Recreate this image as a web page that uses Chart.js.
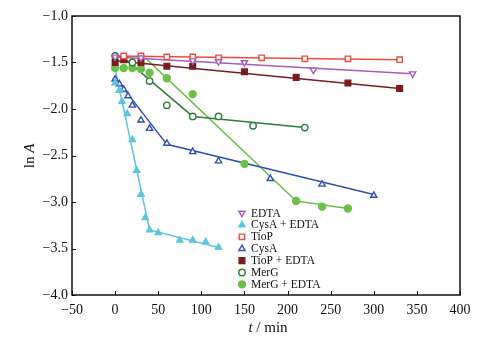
<!DOCTYPE html>
<html lang="en">
<head>
    <meta charset="UTF-8">
    <title>ln A vs t</title>
    <script src="https://cdn.jsdelivr.net/npm/chart.js"></script>
    <style>
        body { margin: 0; background: #fff; }
        #wrap { width: 481px; height: 348px; }
    </style>
</head>
<body>
<div id="wrap"><canvas id="lnChart" width="481" height="348"></canvas></div>
<script>
// measured points (t in min, ln A)
const edtaT = [0, 30, 90, 120, 150, 230, 345];
const edtaY = [-1.44, -1.45, -1.48, -1.49, -1.50, -1.58, -1.62];
const cysEdtaT = [0, 5, 8, 14, 20, 25, 30, 35, 40, 50, 75, 90, 105, 120];
const cysEdtaY = [-1.72, -1.80, -1.92, -2.05, -2.33, -2.66, -2.92, -3.17, -3.30, -3.33, -3.41, -3.41, -3.43, -3.49];
const tiopT = [10, 30, 60, 90, 120, 170, 220, 270, 330];
const tiopY = [-1.43, -1.43, -1.44, -1.44, -1.45, -1.45, -1.46, -1.46, -1.47];
const cysT = [0, 5, 10, 15, 20, 30, 40, 60, 90, 120, 180, 240, 300];
const cysY = [-1.68, -1.73, -1.79, -1.86, -1.96, -2.12, -2.21, -2.37, -2.46, -2.56, -2.75, -2.81, -2.93];
const tiopEdtaT = [0, 10, 30, 60, 90, 150, 210, 270, 330];
const tiopEdtaY = [-1.50, -1.47, -1.50, -1.54, -1.54, -1.60, -1.66, -1.72, -1.78];
const mergT = [0, 20, 40, 60, 90, 120, 160, 220];
const mergY = [-1.43, -1.50, -1.70, -1.96, -2.08, -2.08, -2.18, -2.20];
const mergEdtaT = [0, 10, 20, 30, 40, 60, 90, 150, 210, 240, 270];
const mergEdtaY = [-1.56, -1.56, -1.56, -1.57, -1.61, -1.67, -1.84, -2.59, -2.99, -3.05, -3.07];

// fitted line segments
const edtaFitT = [0, 345];
const edtaFitY = [-1.44, -1.62];
const cysEdtaFitT = [0, 40, 120];
const cysEdtaFitY = [-1.57, -3.30, -3.49];
const tiopFitT = [0, 330];
const tiopFitY = [-1.43, -1.47];
const cysFitT = [0, 60, 300];
const cysFitY = [-1.66, -2.38, -2.92];
const tiopEdtaFitT = [0, 330];
const tiopEdtaFitY = [-1.48, -1.78];
const mergFitT = [10, 90, 220];
const mergFitY = [-1.45, -2.08, -2.20];
const mergEdtaFitT = [35, 210, 270];
const mergEdtaFitY = [-1.45, -2.99, -3.07];

const seriesNames = ['EDTA', 'CysA + EDTA', 'TioP', 'CysA', 'TioP + EDTA', 'MerG', 'MerG + EDTA'];
const xTicks = [-50, 0, 50, 100, 150, 200, 250, 300, 350, 400];
const yTicks = [-4.0, -3.5, -3.0, -2.5, -2.0, -1.5, -1.0];

const pts = (t, y) => t.map((v, i) => ({ x: v, y: y[i] }));
const serif = 'Liberation Serif, Times New Roman, serif';

const styles = [
    { color: '#a85cbc', shape: 'triangle', rot: 180, filled: false, r: 3.6 },
    { color: '#5cc6dc', shape: 'triangle', rot: 0, filled: true, r: 3.6 },
    { color: '#ee4a3e', shape: 'rect', rot: 0, filled: false, r: 3.8 },
    { color: '#2c50b4', shape: 'triangle', rot: 0, filled: false, r: 3.6 },
    { color: '#7a1c1e', shape: 'rect', rot: 0, filled: true, r: 4 },
    { color: '#2f7d3b', shape: 'circle', rot: 0, filled: false, r: 3.2 },
    { color: '#6cc049', shape: 'circle', rot: 0, filled: true, r: 3.5 }
];

const pointSets = [
    pts(edtaT, edtaY), pts(cysEdtaT, cysEdtaY), pts(tiopT, tiopY), pts(cysT, cysY),
    pts(tiopEdtaT, tiopEdtaY), pts(mergT, mergY), pts(mergEdtaT, mergEdtaY)
];
const fitSets = [
    pts(edtaFitT, edtaFitY), pts(cysEdtaFitT, cysEdtaFitY), pts(tiopFitT, tiopFitY), pts(cysFitT, cysFitY),
    pts(tiopEdtaFitT, tiopEdtaFitY), pts(mergFitT, mergFitY), pts(mergEdtaFitT, mergEdtaFitY)
];

const datasets = [];
styles.forEach((s, i) => {
    datasets.push({
        label: seriesNames[i],
        data: pointSets[i],
        showLine: false,
        pointStyle: s.shape,
        rotation: s.rot,
        pointRadius: s.r,
        borderWidth: 1.4,
        borderColor: s.color,
        backgroundColor: s.filled ? s.color : '#fff',
        order: 1
    });
    datasets.push({
        label: seriesNames[i] + ' fit',
        data: fitSets[i],
        showLine: true,
        pointRadius: 0,
        borderWidth: 1.5,
        borderColor: s.color,
        order: 2
    });
});

const minus = v => String(v).replace('-', '\u2212');

// box, inward ticks, axis titles and legend
const decorations = {
    id: 'decorations',
    afterDraw(chart) {
        const { ctx, chartArea: a, scales } = chart;
        ctx.save();
        ctx.strokeStyle = '#111';
        ctx.lineWidth = 1.5;
        ctx.strokeRect(a.left, a.top, a.right - a.left, a.bottom - a.top);
        ctx.lineWidth = 1;
        ctx.beginPath();
        xTicks.forEach(v => {
            const px = Math.round(scales.x.getPixelForValue(v)) + 0.5;
            ctx.moveTo(px, a.bottom); ctx.lineTo(px, a.bottom - 4);
        });
        yTicks.forEach(v => {
            const py = Math.round(scales.y.getPixelForValue(v)) + 0.5;
            ctx.moveTo(a.left, py); ctx.lineTo(a.left + 4, py);
        });
        ctx.stroke();

        // x title: italic t
        ctx.fillStyle = '#111';
        ctx.textBaseline = 'middle';
        ctx.textAlign = 'left';
        const cx = (a.left + a.right) / 2;
        ctx.font = 'italic 15px ' + serif;
        const w1 = ctx.measureText('t').width;
        ctx.font = '15px ' + serif;
        const w2 = ctx.measureText(' / min').width;
        let x0 = cx - (w1 + w2) / 2 + 2;
        ctx.font = 'italic 15px ' + serif;
        ctx.fillText('t', x0, 328);
        ctx.font = '15px ' + serif;
        ctx.fillText(' / min', x0 + w1, 328);

        // y title: ln A
        ctx.save();
        ctx.translate(30, 156);
        ctx.rotate(-Math.PI / 2);
        ctx.font = '15px ' + serif;
        const u1 = ctx.measureText('ln ').width;
        ctx.font = 'italic 15px ' + serif;
        const u2 = ctx.measureText('A').width;
        ctx.font = '15px ' + serif;
        ctx.fillText('ln ', -(u1 + u2) / 2, 0);
        ctx.font = 'italic 15px ' + serif;
        ctx.fillText('A', -(u1 + u2) / 2 + u1, 0);
        ctx.restore();

        // legend
        ctx.font = '11.5px ' + serif;
        styles.forEach((s, i) => {
            const ly = 213 + i * 11.9;
            ctx.strokeStyle = s.color;
            ctx.fillStyle = s.filled ? s.color : '#fff';
            ctx.lineWidth = 1.4;
            Chart.helpers.drawPoint(ctx, { pointStyle: s.shape, rotation: s.rot, radius: s.r, borderWidth: 1.4 }, 242, ly);
            ctx.fillStyle = '#111';
            ctx.fillText(seriesNames[i], 251, ly + 0.5);
        });
        ctx.restore();
    }
};

new Chart(document.getElementById('lnChart'), {
    type: 'scatter',
    data: { datasets: datasets },
    options: {
        responsive: false,
        animation: false,
        layout: { padding: { top: 16, right: 21, left: 0, bottom: 0 } },
        plugins: { legend: { display: false }, tooltip: { enabled: false } },
        scales: {
            x: {
                type: 'linear', min: -50, max: 400,
                afterBuildTicks: s => { s.ticks = xTicks.map(v => ({ value: v })); },
                afterFit: s => { s.height = 53; },
                grid: { display: false, drawTicks: false },
                border: { display: false },
                ticks: {
                    padding: 7, color: '#111',
                    font: { family: serif, size: 14 },
                    callback: v => minus(v)
                }
            },
            y: {
                type: 'linear', min: -4, max: -1,
                afterBuildTicks: s => { s.ticks = yTicks.map(v => ({ value: v })); },
                afterFit: s => { s.width = 72; },
                grid: { display: false, drawTicks: false },
                border: { display: false },
                ticks: {
                    padding: 4, color: '#111',
                    font: { family: serif, size: 14 },
                    callback: v => minus(Number(v).toFixed(1))
                }
            }
        }
    },
    plugins: [decorations]
});
</script>
</body>
</html>
